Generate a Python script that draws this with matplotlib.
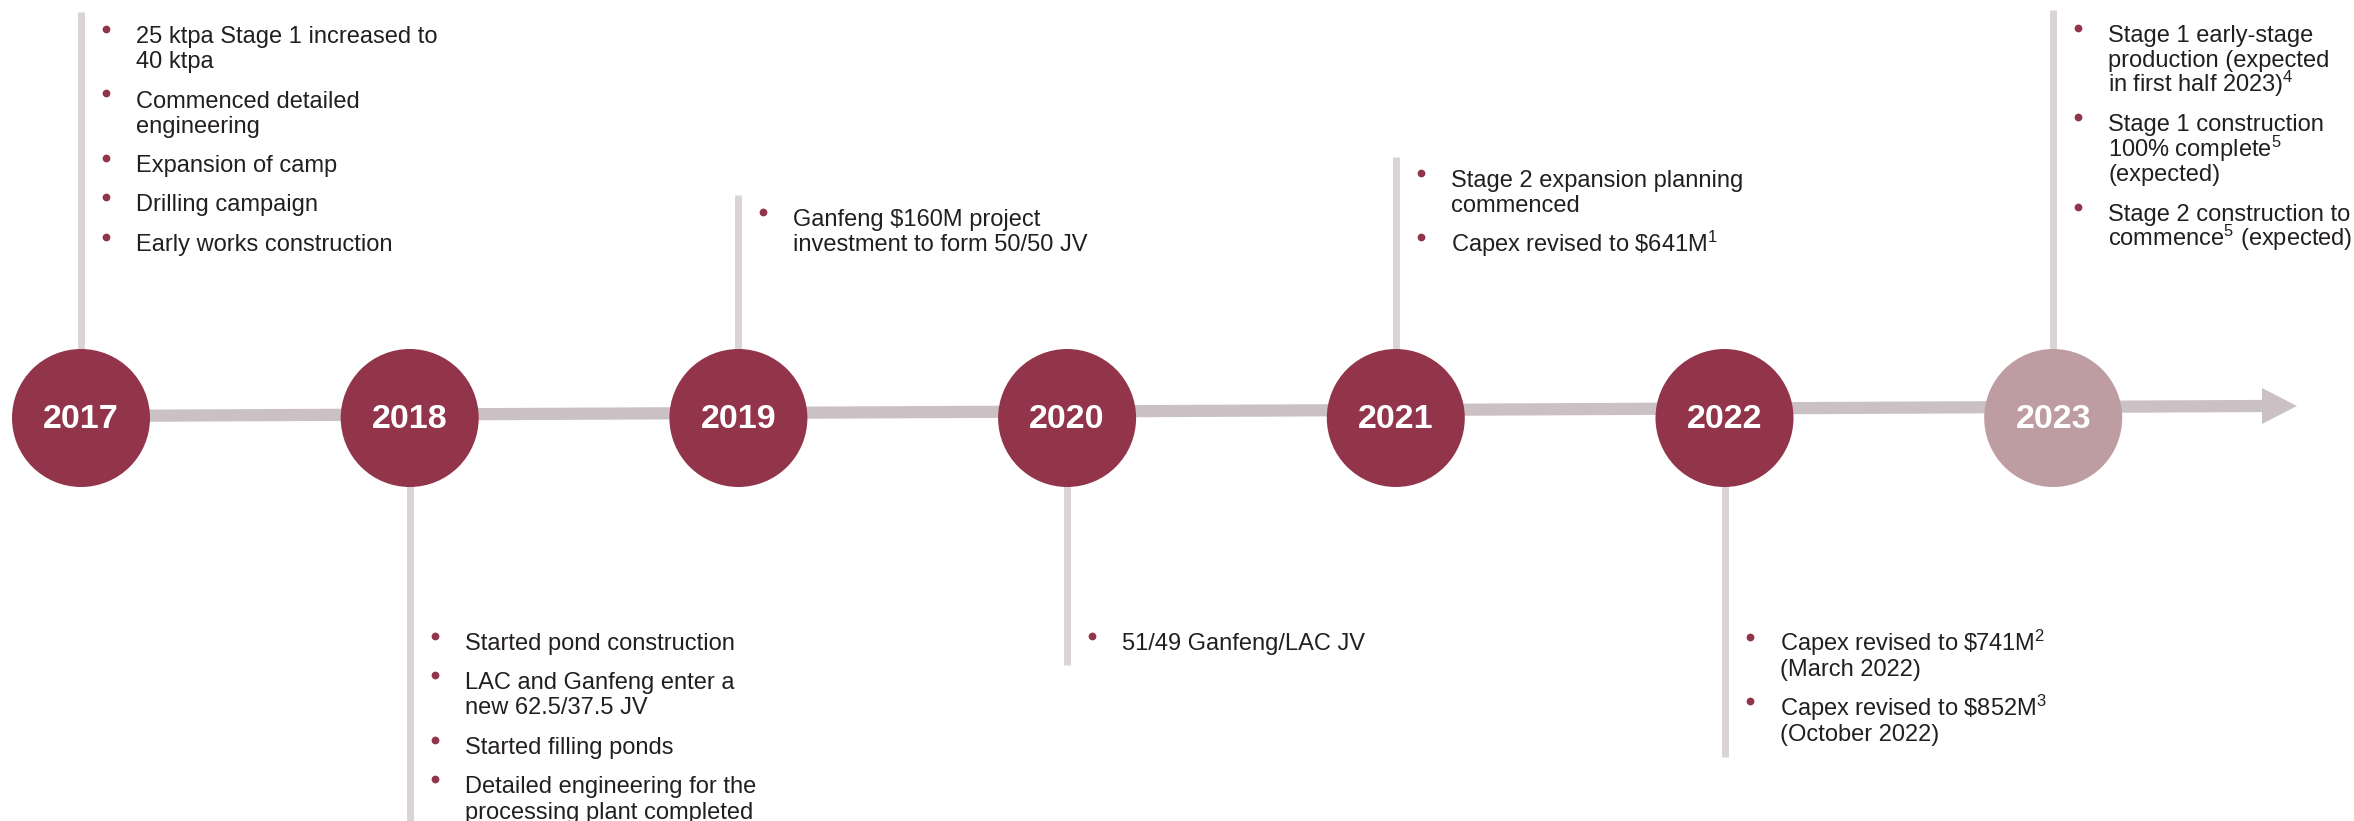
import matplotlib.pyplot as plt
from matplotlib.patches import Circle, Polygon

plt.rcParams['font.family'] = ['Liberation Sans', 'DejaVu Sans']
plt.rcParams['mathtext.fontset'] = 'custom'
plt.rcParams['mathtext.rm'] = 'Liberation Sans'
plt.rcParams['mathtext.it'] = 'Liberation Sans'
plt.rcParams['mathtext.bf'] = 'Liberation Sans:bold'

years = ['2017', '2018', '2019', '2020', '2021', '2022', '2023']
expected = [False, False, False, False, False, False, True]

events_2017 = ['25 ktpa Stage 1 increased to\n40 ktpa',
               'Commenced detailed\nengineering',
               'Expansion of camp',
               'Drilling campaign',
               'Early works construction']
events_2018 = ['Started pond construction',
               'LAC and Ganfeng enter a\nnew 62.5/37.5 JV',
               'Started filling ponds',
               'Detailed engineering for the\nprocessing plant completed']
events_2019 = ['Ganfeng \\$160M project\ninvestment to form 50/50 JV']
events_2020 = ['51/49 Ganfeng/LAC JV']
events_2021 = ['Stage 2 expansion planning\ncommenced',
               'Capex revised to \\$641M$^{1}$']
events_2022 = ['Capex revised to \\$741M$^{2}$\n(March 2022)',
               'Capex revised to \\$852M$^{3}$\n(October 2022)']
events_2023 = ['Stage 1 early-stage\nproduction (expected\nin first half 2023)$^{4}$',
               'Stage 1 construction\n100% complete$^{5}$\n(expected)',
               'Stage 2 construction to\ncommence$^{5}$ (expected)']
events = [events_2017, events_2018, events_2019, events_2020,
          events_2021, events_2022, events_2023]

# layout (pixels)
x0, dx, cy, r = 81, 328.7, 418, 69
first_baseline = [43, 650, 226, 650, 187, 651, 42]
stem_end = [12, 821, 195, 665, 157, 757, 10]
line_step, item_step = 25, 39.5

dark_red = '#93354A'
light_red = '#BD9CA2'
axis_grey = '#CBC1C5'
stem_grey = '#DAD4D6'
text_col = '#231F20'

fig = plt.figure(figsize=(23.54, 8.21), dpi=100)
ax = fig.add_axes([0, 0, 1, 1])
ax.set_xlim(0, 2354)
ax.set_ylim(821, 0)
ax.axis('off')

# main axis with arrow
xs_end = 2262
ax.plot([x0, xs_end], [416, 406], color=axis_grey, lw=8.8, solid_capstyle='butt', zorder=1)
ax.add_patch(Polygon([[xs_end, 388], [xs_end, 424], [2297, 406]], closed=True,
                     color=axis_grey, lw=0, zorder=1))

for i, yr in enumerate(years):
    cx = x0 + i * dx
    ax.plot([cx, cx], [cy, stem_end[i]], color=stem_grey, lw=5, solid_capstyle='butt', zorder=0)
    ax.add_patch(Circle((cx, cy), r, color=light_red if expected[i] else dark_red, lw=0, zorder=2))
    ax.text(cx, cy + 1, yr, color='white', fontsize=24.5, fontweight='bold',
            ha='center', va='center', zorder=3)

    y = first_baseline[i]
    for item in events[i]:
        ax.plot(cx + 25, y - 14, 'o', color=dark_red, markersize=5.6, mec='none', zorder=3)
        for line in item.split('\n'):
            ax.text(cx + 55, y, line, color=text_col, fontsize=17, ha='left', va='baseline')
            y += line_step
        y += item_step - line_step

fig.savefig('out.png', dpi=100)
